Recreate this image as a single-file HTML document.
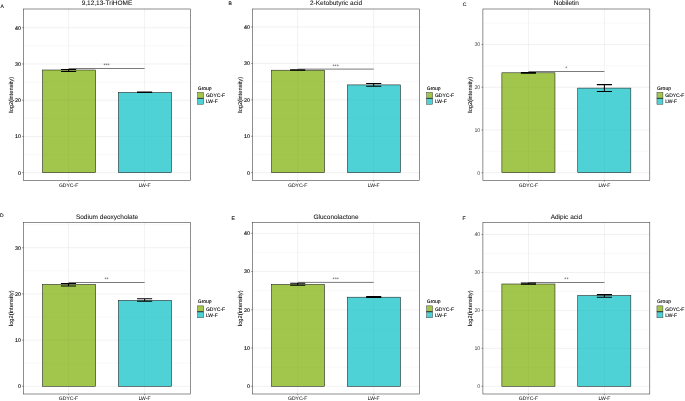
<!DOCTYPE html>
<html><head><meta charset="utf-8"><title>Figure</title>
<style>
html,body{margin:0;padding:0;background:#fff;}
body{width:685px;height:401px;overflow:hidden;font-family:"Liberation Sans",sans-serif;}
svg{display:block;will-change:transform;}
</style></head><body>
<svg width="685" height="401" viewBox="0 0 685 401" text-rendering="geometricPrecision">
<rect x="0" y="0" width="685" height="401" fill="#ffffff"/>
<g>
<line x1="23.50" x2="190.50" y1="154.57" y2="154.57" stroke="#ebebeb" stroke-width="0.32"/>
<line x1="23.50" x2="190.50" y1="118.32" y2="118.32" stroke="#ebebeb" stroke-width="0.32"/>
<line x1="23.50" x2="190.50" y1="82.07" y2="82.07" stroke="#ebebeb" stroke-width="0.32"/>
<line x1="23.50" x2="190.50" y1="45.82" y2="45.82" stroke="#ebebeb" stroke-width="0.32"/>
<line x1="23.50" x2="190.50" y1="172.70" y2="172.70" stroke="#e8e8e8" stroke-width="0.6"/>
<line x1="23.50" x2="190.50" y1="136.45" y2="136.45" stroke="#e8e8e8" stroke-width="0.6"/>
<line x1="23.50" x2="190.50" y1="100.20" y2="100.20" stroke="#e8e8e8" stroke-width="0.6"/>
<line x1="23.50" x2="190.50" y1="63.95" y2="63.95" stroke="#e8e8e8" stroke-width="0.6"/>
<line x1="23.50" x2="190.50" y1="27.70" y2="27.70" stroke="#e8e8e8" stroke-width="0.6"/>
<line x1="68.60" x2="68.60" y1="9.00" y2="180.50" stroke="#e8e8e8" stroke-width="0.6"/>
<line x1="144.60" x2="144.60" y1="9.00" y2="180.50" stroke="#e8e8e8" stroke-width="0.6"/>
<rect x="42.48" y="70.00" width="53.14" height="102.70" fill="#A2C64C" stroke="#1a1a1a" stroke-width="0.55"/>
<rect x="118.39" y="92.40" width="53.14" height="80.30" fill="#4FD2D6" stroke="#1a1a1a" stroke-width="0.55"/>
<line x1="68.60" x2="68.60" y1="70.50" y2="172.20" stroke="#000" stroke-opacity="0.05" stroke-width="0.6"/>
<line x1="144.60" x2="144.60" y1="92.90" y2="172.20" stroke="#000" stroke-opacity="0.05" stroke-width="0.6"/>
<line x1="42.78" x2="95.31" y1="136.45" y2="136.45" stroke="#000" stroke-opacity="0.05" stroke-width="0.6"/>
<line x1="42.78" x2="95.31" y1="100.20" y2="100.20" stroke="#000" stroke-opacity="0.05" stroke-width="0.6"/>
<line x1="42.78" x2="95.31" y1="154.57" y2="154.57" stroke="#000" stroke-opacity="0.05" stroke-width="0.3"/>
<line x1="42.78" x2="95.31" y1="118.32" y2="118.32" stroke="#000" stroke-opacity="0.05" stroke-width="0.3"/>
<line x1="42.78" x2="95.31" y1="82.07" y2="82.07" stroke="#000" stroke-opacity="0.05" stroke-width="0.3"/>
<line x1="118.69" x2="171.22" y1="136.45" y2="136.45" stroke="#000" stroke-opacity="0.05" stroke-width="0.6"/>
<line x1="118.69" x2="171.22" y1="100.20" y2="100.20" stroke="#000" stroke-opacity="0.05" stroke-width="0.6"/>
<line x1="118.69" x2="171.22" y1="154.57" y2="154.57" stroke="#000" stroke-opacity="0.05" stroke-width="0.3"/>
<line x1="118.69" x2="171.22" y1="118.32" y2="118.32" stroke="#000" stroke-opacity="0.05" stroke-width="0.3"/>
<path d="M61.05 69.50H76.15M61.05 71.50H76.15M68.60 69.50V71.50" stroke="#000" stroke-width="1.05" fill="none"/>
<path d="M137.05 91.95H152.15M137.05 92.40H152.15M144.60 91.95V92.40" stroke="#000" stroke-width="1.05" fill="none"/>
<line x1="68.60" x2="144.60" y1="68.50" y2="68.50" stroke="#222" stroke-width="0.6"/>
<text x="106.60" y="67.05" font-family="Liberation Sans, sans-serif" font-size="5.3" text-anchor="middle" fill="#555" stroke="#555" stroke-width="0" >***</text>
<rect x="23.50" y="9.00" width="167.00" height="171.50" fill="none" stroke="#333333" stroke-width="0.55"/>
<line x1="22.10" x2="23.50" y1="172.70" y2="172.70" stroke="#333" stroke-width="0.5"/>
<text x="20.90" y="174.60" font-family="Liberation Sans, sans-serif" font-size="5.3" text-anchor="end" fill="#111" stroke="#111" stroke-width="0.14" >0</text>
<line x1="22.10" x2="23.50" y1="136.45" y2="136.45" stroke="#333" stroke-width="0.5"/>
<text x="20.90" y="138.35" font-family="Liberation Sans, sans-serif" font-size="5.3" text-anchor="end" fill="#111" stroke="#111" stroke-width="0.14" >10</text>
<line x1="22.10" x2="23.50" y1="100.20" y2="100.20" stroke="#333" stroke-width="0.5"/>
<text x="20.90" y="102.10" font-family="Liberation Sans, sans-serif" font-size="5.3" text-anchor="end" fill="#111" stroke="#111" stroke-width="0.14" >20</text>
<line x1="22.10" x2="23.50" y1="63.95" y2="63.95" stroke="#333" stroke-width="0.5"/>
<text x="20.90" y="65.85" font-family="Liberation Sans, sans-serif" font-size="5.3" text-anchor="end" fill="#111" stroke="#111" stroke-width="0.14" >30</text>
<line x1="22.10" x2="23.50" y1="27.70" y2="27.70" stroke="#333" stroke-width="0.5"/>
<text x="20.90" y="29.60" font-family="Liberation Sans, sans-serif" font-size="5.3" text-anchor="end" fill="#111" stroke="#111" stroke-width="0.14" >40</text>
<line x1="68.60" x2="68.60" y1="180.50" y2="181.70" stroke="#333" stroke-width="0.5"/>
<text x="68.60" y="187.20" font-family="Liberation Sans, sans-serif" font-size="5.05" text-anchor="middle" fill="#222" stroke="#222" stroke-width="0.06" >GDYC-F</text>
<line x1="144.60" x2="144.60" y1="180.50" y2="181.70" stroke="#333" stroke-width="0.5"/>
<text x="144.60" y="187.20" font-family="Liberation Sans, sans-serif" font-size="5.05" text-anchor="middle" fill="#222" stroke="#222" stroke-width="0.06" >LW-F</text>
<text x="107.00" y="5.30" font-family="Liberation Sans, sans-serif" font-size="6.5" text-anchor="middle" fill="#111" stroke="#111" stroke-width="0.06" >9,12,13-TriHOME</text>
<text transform="translate(12.50 94.75) rotate(-90)" font-family="Liberation Sans, sans-serif" font-size="5.75" text-anchor="middle" fill="#000" stroke="#000" stroke-width="0.06">log2(intensity)</text>
<text x="197.75" y="89.95" font-family="Liberation Sans, sans-serif" font-size="5.0" text-anchor="start" fill="#000" stroke="#000" stroke-width="0.1" >Group</text>
<rect x="197.65" y="92.35" width="5.95" height="5.95" fill="#A2C64C" stroke="#444" stroke-width="0.5"/>
<text x="205.95" y="97.42" font-family="Liberation Sans, sans-serif" font-size="5.0" text-anchor="start" fill="#000" stroke="#000" stroke-width="0.1" >GDYC-F</text>
<rect x="197.65" y="98.30" width="5.95" height="5.95" fill="#4FD2D6" stroke="#444" stroke-width="0.5"/>
<text x="205.95" y="103.37" font-family="Liberation Sans, sans-serif" font-size="5.0" text-anchor="start" fill="#000" stroke="#000" stroke-width="0.1" >LW-F</text>
<line x1="197.65" x2="203.60" y1="98.30" y2="98.30" stroke="#111" stroke-width="0.6"/>
<text x="0.40" y="7.90" font-family="Liberation Sans, sans-serif" font-size="5.0" text-anchor="start" fill="#222" stroke="#222" stroke-width="0.15" >A</text>
</g>
<g>
<line x1="252.50" x2="419.50" y1="154.49" y2="154.49" stroke="#ebebeb" stroke-width="0.32"/>
<line x1="252.50" x2="419.50" y1="118.06" y2="118.06" stroke="#ebebeb" stroke-width="0.32"/>
<line x1="252.50" x2="419.50" y1="81.64" y2="81.64" stroke="#ebebeb" stroke-width="0.32"/>
<line x1="252.50" x2="419.50" y1="45.21" y2="45.21" stroke="#ebebeb" stroke-width="0.32"/>
<line x1="252.50" x2="419.50" y1="172.70" y2="172.70" stroke="#e8e8e8" stroke-width="0.6"/>
<line x1="252.50" x2="419.50" y1="136.27" y2="136.27" stroke="#e8e8e8" stroke-width="0.6"/>
<line x1="252.50" x2="419.50" y1="99.85" y2="99.85" stroke="#e8e8e8" stroke-width="0.6"/>
<line x1="252.50" x2="419.50" y1="63.42" y2="63.42" stroke="#e8e8e8" stroke-width="0.6"/>
<line x1="252.50" x2="419.50" y1="27.00" y2="27.00" stroke="#e8e8e8" stroke-width="0.6"/>
<line x1="297.65" x2="297.65" y1="9.00" y2="180.50" stroke="#e8e8e8" stroke-width="0.6"/>
<line x1="373.70" x2="373.70" y1="9.00" y2="180.50" stroke="#e8e8e8" stroke-width="0.6"/>
<rect x="271.48" y="70.20" width="53.14" height="102.50" fill="#A2C64C" stroke="#1a1a1a" stroke-width="0.55"/>
<rect x="347.39" y="84.90" width="53.14" height="87.80" fill="#4FD2D6" stroke="#1a1a1a" stroke-width="0.55"/>
<line x1="297.65" x2="297.65" y1="70.70" y2="172.20" stroke="#000" stroke-opacity="0.05" stroke-width="0.6"/>
<line x1="373.70" x2="373.70" y1="85.40" y2="172.20" stroke="#000" stroke-opacity="0.05" stroke-width="0.6"/>
<line x1="271.78" x2="324.31" y1="136.27" y2="136.27" stroke="#000" stroke-opacity="0.05" stroke-width="0.6"/>
<line x1="271.78" x2="324.31" y1="99.85" y2="99.85" stroke="#000" stroke-opacity="0.05" stroke-width="0.6"/>
<line x1="271.78" x2="324.31" y1="154.49" y2="154.49" stroke="#000" stroke-opacity="0.05" stroke-width="0.3"/>
<line x1="271.78" x2="324.31" y1="118.06" y2="118.06" stroke="#000" stroke-opacity="0.05" stroke-width="0.3"/>
<line x1="271.78" x2="324.31" y1="81.64" y2="81.64" stroke="#000" stroke-opacity="0.05" stroke-width="0.3"/>
<line x1="347.69" x2="400.22" y1="136.27" y2="136.27" stroke="#000" stroke-opacity="0.05" stroke-width="0.6"/>
<line x1="347.69" x2="400.22" y1="99.85" y2="99.85" stroke="#000" stroke-opacity="0.05" stroke-width="0.6"/>
<line x1="347.69" x2="400.22" y1="154.49" y2="154.49" stroke="#000" stroke-opacity="0.05" stroke-width="0.3"/>
<line x1="347.69" x2="400.22" y1="118.06" y2="118.06" stroke="#000" stroke-opacity="0.05" stroke-width="0.3"/>
<path d="M290.10 69.80H305.20M290.10 70.10H305.20M297.65 69.80V70.10" stroke="#000" stroke-width="1.05" fill="none"/>
<path d="M366.15 83.50H381.25M366.15 86.20H381.25M373.70 83.50V86.20" stroke="#000" stroke-width="1.05" fill="none"/>
<line x1="297.65" x2="373.70" y1="69.10" y2="69.10" stroke="#222" stroke-width="0.6"/>
<text x="335.67" y="67.55" font-family="Liberation Sans, sans-serif" font-size="5.3" text-anchor="middle" fill="#555" stroke="#555" stroke-width="0" >***</text>
<rect x="252.50" y="9.00" width="167.00" height="171.50" fill="none" stroke="#333333" stroke-width="0.55"/>
<line x1="251.10" x2="252.50" y1="172.70" y2="172.70" stroke="#333" stroke-width="0.5"/>
<text x="249.90" y="174.60" font-family="Liberation Sans, sans-serif" font-size="5.3" text-anchor="end" fill="#111" stroke="#111" stroke-width="0.14" >0</text>
<line x1="251.10" x2="252.50" y1="136.27" y2="136.27" stroke="#333" stroke-width="0.5"/>
<text x="249.90" y="138.17" font-family="Liberation Sans, sans-serif" font-size="5.3" text-anchor="end" fill="#111" stroke="#111" stroke-width="0.14" >10</text>
<line x1="251.10" x2="252.50" y1="99.85" y2="99.85" stroke="#333" stroke-width="0.5"/>
<text x="249.90" y="101.75" font-family="Liberation Sans, sans-serif" font-size="5.3" text-anchor="end" fill="#111" stroke="#111" stroke-width="0.14" >20</text>
<line x1="251.10" x2="252.50" y1="63.42" y2="63.42" stroke="#333" stroke-width="0.5"/>
<text x="249.90" y="65.32" font-family="Liberation Sans, sans-serif" font-size="5.3" text-anchor="end" fill="#111" stroke="#111" stroke-width="0.14" >30</text>
<line x1="251.10" x2="252.50" y1="27.00" y2="27.00" stroke="#333" stroke-width="0.5"/>
<text x="249.90" y="28.90" font-family="Liberation Sans, sans-serif" font-size="5.3" text-anchor="end" fill="#111" stroke="#111" stroke-width="0.14" >40</text>
<line x1="297.65" x2="297.65" y1="180.50" y2="181.70" stroke="#333" stroke-width="0.5"/>
<text x="297.65" y="187.20" font-family="Liberation Sans, sans-serif" font-size="5.05" text-anchor="middle" fill="#222" stroke="#222" stroke-width="0.06" >GDYC-F</text>
<line x1="373.70" x2="373.70" y1="180.50" y2="181.70" stroke="#333" stroke-width="0.5"/>
<text x="373.70" y="187.20" font-family="Liberation Sans, sans-serif" font-size="5.05" text-anchor="middle" fill="#222" stroke="#222" stroke-width="0.06" >LW-F</text>
<text x="336.00" y="5.30" font-family="Liberation Sans, sans-serif" font-size="6.5" text-anchor="middle" fill="#111" stroke="#111" stroke-width="0.06" >2-Ketobutyric acid</text>
<text transform="translate(241.50 94.75) rotate(-90)" font-family="Liberation Sans, sans-serif" font-size="5.75" text-anchor="middle" fill="#000" stroke="#000" stroke-width="0.06">log2(intensity)</text>
<text x="426.75" y="89.95" font-family="Liberation Sans, sans-serif" font-size="5.0" text-anchor="start" fill="#000" stroke="#000" stroke-width="0.1" >Group</text>
<rect x="426.65" y="92.35" width="5.95" height="5.95" fill="#A2C64C" stroke="#444" stroke-width="0.5"/>
<text x="434.95" y="97.42" font-family="Liberation Sans, sans-serif" font-size="5.0" text-anchor="start" fill="#000" stroke="#000" stroke-width="0.1" >GDYC-F</text>
<rect x="426.65" y="98.30" width="5.95" height="5.95" fill="#4FD2D6" stroke="#444" stroke-width="0.5"/>
<text x="434.95" y="103.37" font-family="Liberation Sans, sans-serif" font-size="5.0" text-anchor="start" fill="#000" stroke="#000" stroke-width="0.1" >LW-F</text>
<line x1="426.65" x2="432.60" y1="98.30" y2="98.30" stroke="#111" stroke-width="0.6"/>
<text x="228.50" y="4.90" font-family="Liberation Sans, sans-serif" font-size="5.0" text-anchor="start" fill="#222" stroke="#222" stroke-width="0.15" >B</text>
</g>
<g>
<line x1="482.90" x2="649.80" y1="151.33" y2="151.33" stroke="#ebebeb" stroke-width="0.32"/>
<line x1="482.90" x2="649.80" y1="108.60" y2="108.60" stroke="#ebebeb" stroke-width="0.32"/>
<line x1="482.90" x2="649.80" y1="65.88" y2="65.88" stroke="#ebebeb" stroke-width="0.32"/>
<line x1="482.90" x2="649.80" y1="23.15" y2="23.15" stroke="#ebebeb" stroke-width="0.32"/>
<line x1="482.90" x2="649.80" y1="172.70" y2="172.70" stroke="#e8e8e8" stroke-width="0.6"/>
<line x1="482.90" x2="649.80" y1="129.97" y2="129.97" stroke="#e8e8e8" stroke-width="0.6"/>
<line x1="482.90" x2="649.80" y1="87.24" y2="87.24" stroke="#e8e8e8" stroke-width="0.6"/>
<line x1="482.90" x2="649.80" y1="44.51" y2="44.51" stroke="#e8e8e8" stroke-width="0.6"/>
<line x1="528.40" x2="528.40" y1="9.00" y2="180.50" stroke="#e8e8e8" stroke-width="0.6"/>
<line x1="604.40" x2="604.40" y1="9.00" y2="180.50" stroke="#e8e8e8" stroke-width="0.6"/>
<rect x="501.87" y="72.80" width="53.10" height="99.90" fill="#A2C64C" stroke="#1a1a1a" stroke-width="0.55"/>
<rect x="577.73" y="88.10" width="53.10" height="84.60" fill="#4FD2D6" stroke="#1a1a1a" stroke-width="0.55"/>
<line x1="528.40" x2="528.40" y1="73.30" y2="172.20" stroke="#000" stroke-opacity="0.05" stroke-width="0.6"/>
<line x1="604.40" x2="604.40" y1="88.60" y2="172.20" stroke="#000" stroke-opacity="0.05" stroke-width="0.6"/>
<line x1="502.17" x2="554.67" y1="129.97" y2="129.97" stroke="#000" stroke-opacity="0.05" stroke-width="0.6"/>
<line x1="502.17" x2="554.67" y1="87.24" y2="87.24" stroke="#000" stroke-opacity="0.05" stroke-width="0.6"/>
<line x1="502.17" x2="554.67" y1="151.33" y2="151.33" stroke="#000" stroke-opacity="0.05" stroke-width="0.3"/>
<line x1="502.17" x2="554.67" y1="108.60" y2="108.60" stroke="#000" stroke-opacity="0.05" stroke-width="0.3"/>
<line x1="578.03" x2="630.53" y1="129.97" y2="129.97" stroke="#000" stroke-opacity="0.05" stroke-width="0.6"/>
<line x1="578.03" x2="630.53" y1="151.33" y2="151.33" stroke="#000" stroke-opacity="0.05" stroke-width="0.3"/>
<line x1="578.03" x2="630.53" y1="108.60" y2="108.60" stroke="#000" stroke-opacity="0.05" stroke-width="0.3"/>
<path d="M520.85 72.45H535.95M520.85 73.25H535.95M528.40 72.45V73.25" stroke="#000" stroke-width="1.05" fill="none"/>
<path d="M596.85 84.60H611.95M596.85 91.50H611.95M604.40 84.60V91.50" stroke="#000" stroke-width="1.05" fill="none"/>
<line x1="528.40" x2="604.40" y1="71.50" y2="71.50" stroke="#222" stroke-width="0.6"/>
<text x="566.40" y="69.95" font-family="Liberation Sans, sans-serif" font-size="5.3" text-anchor="middle" fill="#555" stroke="#555" stroke-width="0" >*</text>
<rect x="482.90" y="9.00" width="166.90" height="171.50" fill="none" stroke="#333333" stroke-width="0.55"/>
<line x1="481.50" x2="482.90" y1="172.70" y2="172.70" stroke="#333" stroke-width="0.5"/>
<text x="480.30" y="174.60" font-family="Liberation Sans, sans-serif" font-size="5.3" text-anchor="end" fill="#444" stroke="#444" stroke-width="0" >0</text>
<line x1="481.50" x2="482.90" y1="129.97" y2="129.97" stroke="#333" stroke-width="0.5"/>
<text x="480.30" y="131.87" font-family="Liberation Sans, sans-serif" font-size="5.3" text-anchor="end" fill="#444" stroke="#444" stroke-width="0" >10</text>
<line x1="481.50" x2="482.90" y1="87.24" y2="87.24" stroke="#333" stroke-width="0.5"/>
<text x="480.30" y="89.14" font-family="Liberation Sans, sans-serif" font-size="5.3" text-anchor="end" fill="#444" stroke="#444" stroke-width="0" >20</text>
<line x1="481.50" x2="482.90" y1="44.51" y2="44.51" stroke="#333" stroke-width="0.5"/>
<text x="480.30" y="46.41" font-family="Liberation Sans, sans-serif" font-size="5.3" text-anchor="end" fill="#444" stroke="#444" stroke-width="0" >30</text>
<line x1="528.40" x2="528.40" y1="180.50" y2="181.70" stroke="#333" stroke-width="0.5"/>
<text x="528.40" y="187.20" font-family="Liberation Sans, sans-serif" font-size="5.05" text-anchor="middle" fill="#222" stroke="#222" stroke-width="0.06" >GDYC-F</text>
<line x1="604.40" x2="604.40" y1="180.50" y2="181.70" stroke="#333" stroke-width="0.5"/>
<text x="604.40" y="187.20" font-family="Liberation Sans, sans-serif" font-size="5.05" text-anchor="middle" fill="#222" stroke="#222" stroke-width="0.06" >LW-F</text>
<text x="566.35" y="5.30" font-family="Liberation Sans, sans-serif" font-size="6.5" text-anchor="middle" fill="#111" stroke="#111" stroke-width="0.06" >Nobiletin</text>
<text transform="translate(471.90 94.75) rotate(-90)" font-family="Liberation Sans, sans-serif" font-size="5.75" text-anchor="middle" fill="#000" stroke="#000" stroke-width="0.06">log2(intensity)</text>
<text x="657.05" y="89.95" font-family="Liberation Sans, sans-serif" font-size="5.0" text-anchor="start" fill="#000" stroke="#000" stroke-width="0.1" >Group</text>
<rect x="656.95" y="92.35" width="5.95" height="5.95" fill="#A2C64C" stroke="#444" stroke-width="0.5"/>
<text x="665.25" y="97.42" font-family="Liberation Sans, sans-serif" font-size="5.0" text-anchor="start" fill="#000" stroke="#000" stroke-width="0.1" >GDYC-F</text>
<rect x="656.95" y="98.30" width="5.95" height="5.95" fill="#4FD2D6" stroke="#444" stroke-width="0.5"/>
<text x="665.25" y="103.37" font-family="Liberation Sans, sans-serif" font-size="5.0" text-anchor="start" fill="#000" stroke="#000" stroke-width="0.1" >LW-F</text>
<line x1="656.95" x2="662.90" y1="98.30" y2="98.30" stroke="#111" stroke-width="0.6"/>
<text x="462.70" y="5.80" font-family="Liberation Sans, sans-serif" font-size="5.0" text-anchor="start" fill="#222" stroke="#222" stroke-width="0.15" >C</text>
</g>
<g>
<line x1="23.50" x2="190.50" y1="363.20" y2="363.20" stroke="#ebebeb" stroke-width="0.32"/>
<line x1="23.50" x2="190.50" y1="317.00" y2="317.00" stroke="#ebebeb" stroke-width="0.32"/>
<line x1="23.50" x2="190.50" y1="270.80" y2="270.80" stroke="#ebebeb" stroke-width="0.32"/>
<line x1="23.50" x2="190.50" y1="224.60" y2="224.60" stroke="#ebebeb" stroke-width="0.32"/>
<line x1="23.50" x2="190.50" y1="386.30" y2="386.30" stroke="#e8e8e8" stroke-width="0.6"/>
<line x1="23.50" x2="190.50" y1="340.10" y2="340.10" stroke="#e8e8e8" stroke-width="0.6"/>
<line x1="23.50" x2="190.50" y1="293.90" y2="293.90" stroke="#e8e8e8" stroke-width="0.6"/>
<line x1="23.50" x2="190.50" y1="247.70" y2="247.70" stroke="#e8e8e8" stroke-width="0.6"/>
<line x1="68.50" x2="68.50" y1="222.50" y2="394.00" stroke="#e8e8e8" stroke-width="0.6"/>
<line x1="144.60" x2="144.60" y1="222.50" y2="394.00" stroke="#e8e8e8" stroke-width="0.6"/>
<rect x="42.48" y="284.40" width="53.14" height="101.90" fill="#A2C64C" stroke="#1a1a1a" stroke-width="0.55"/>
<rect x="118.39" y="300.40" width="53.14" height="85.90" fill="#4FD2D6" stroke="#1a1a1a" stroke-width="0.55"/>
<line x1="68.50" x2="68.50" y1="284.90" y2="385.80" stroke="#000" stroke-opacity="0.05" stroke-width="0.6"/>
<line x1="144.60" x2="144.60" y1="300.90" y2="385.80" stroke="#000" stroke-opacity="0.05" stroke-width="0.6"/>
<line x1="42.78" x2="95.31" y1="340.10" y2="340.10" stroke="#000" stroke-opacity="0.05" stroke-width="0.6"/>
<line x1="42.78" x2="95.31" y1="293.90" y2="293.90" stroke="#000" stroke-opacity="0.05" stroke-width="0.6"/>
<line x1="42.78" x2="95.31" y1="363.20" y2="363.20" stroke="#000" stroke-opacity="0.05" stroke-width="0.3"/>
<line x1="42.78" x2="95.31" y1="317.00" y2="317.00" stroke="#000" stroke-opacity="0.05" stroke-width="0.3"/>
<line x1="118.69" x2="171.22" y1="340.10" y2="340.10" stroke="#000" stroke-opacity="0.05" stroke-width="0.6"/>
<line x1="118.69" x2="171.22" y1="363.20" y2="363.20" stroke="#000" stroke-opacity="0.05" stroke-width="0.3"/>
<line x1="118.69" x2="171.22" y1="317.00" y2="317.00" stroke="#000" stroke-opacity="0.05" stroke-width="0.3"/>
<path d="M60.95 283.40H76.05M60.95 286.00H76.05M68.50 283.40V286.00" stroke="#000" stroke-width="1.05" fill="none"/>
<path d="M137.05 298.80H152.15M137.05 301.30H152.15M144.60 298.80V301.30" stroke="#000" stroke-width="1.05" fill="none"/>
<line x1="68.50" x2="144.60" y1="282.50" y2="282.50" stroke="#222" stroke-width="0.6"/>
<text x="106.55" y="281.15" font-family="Liberation Sans, sans-serif" font-size="5.3" text-anchor="middle" fill="#555" stroke="#555" stroke-width="0" >**</text>
<rect x="23.50" y="222.50" width="167.00" height="171.50" fill="none" stroke="#333333" stroke-width="0.55"/>
<line x1="22.10" x2="23.50" y1="386.30" y2="386.30" stroke="#333" stroke-width="0.5"/>
<text x="20.90" y="388.20" font-family="Liberation Sans, sans-serif" font-size="5.3" text-anchor="end" fill="#111" stroke="#111" stroke-width="0.14" >0</text>
<line x1="22.10" x2="23.50" y1="340.10" y2="340.10" stroke="#333" stroke-width="0.5"/>
<text x="20.90" y="342.00" font-family="Liberation Sans, sans-serif" font-size="5.3" text-anchor="end" fill="#111" stroke="#111" stroke-width="0.14" >10</text>
<line x1="22.10" x2="23.50" y1="293.90" y2="293.90" stroke="#333" stroke-width="0.5"/>
<text x="20.90" y="295.80" font-family="Liberation Sans, sans-serif" font-size="5.3" text-anchor="end" fill="#111" stroke="#111" stroke-width="0.14" >20</text>
<line x1="22.10" x2="23.50" y1="247.70" y2="247.70" stroke="#333" stroke-width="0.5"/>
<text x="20.90" y="249.60" font-family="Liberation Sans, sans-serif" font-size="5.3" text-anchor="end" fill="#111" stroke="#111" stroke-width="0.14" >30</text>
<line x1="68.50" x2="68.50" y1="394.00" y2="395.20" stroke="#333" stroke-width="0.5"/>
<text x="68.50" y="400.20" font-family="Liberation Sans, sans-serif" font-size="5.05" text-anchor="middle" fill="#222" stroke="#222" stroke-width="0.06" >GDYC-F</text>
<line x1="144.60" x2="144.60" y1="394.00" y2="395.20" stroke="#333" stroke-width="0.5"/>
<text x="144.60" y="400.20" font-family="Liberation Sans, sans-serif" font-size="5.05" text-anchor="middle" fill="#222" stroke="#222" stroke-width="0.06" >LW-F</text>
<text x="107.00" y="218.80" font-family="Liberation Sans, sans-serif" font-size="6.5" text-anchor="middle" fill="#111" stroke="#111" stroke-width="0.06" >Sodium deoxycholate</text>
<text transform="translate(12.50 308.25) rotate(-90)" font-family="Liberation Sans, sans-serif" font-size="5.75" text-anchor="middle" fill="#000" stroke="#000" stroke-width="0.06">log2(intensity)</text>
<text x="197.75" y="303.45" font-family="Liberation Sans, sans-serif" font-size="5.0" text-anchor="start" fill="#000" stroke="#000" stroke-width="0.1" >Group</text>
<rect x="197.65" y="305.85" width="5.95" height="5.95" fill="#A2C64C" stroke="#444" stroke-width="0.5"/>
<text x="205.95" y="310.93" font-family="Liberation Sans, sans-serif" font-size="5.0" text-anchor="start" fill="#000" stroke="#000" stroke-width="0.1" >GDYC-F</text>
<rect x="197.65" y="311.80" width="5.95" height="5.95" fill="#4FD2D6" stroke="#444" stroke-width="0.5"/>
<text x="205.95" y="316.88" font-family="Liberation Sans, sans-serif" font-size="5.0" text-anchor="start" fill="#000" stroke="#000" stroke-width="0.1" >LW-F</text>
<line x1="197.65" x2="203.60" y1="311.80" y2="311.80" stroke="#111" stroke-width="0.6"/>
<text x="0.00" y="216.60" font-family="Liberation Sans, sans-serif" font-size="5.0" text-anchor="start" fill="#222" stroke="#222" stroke-width="0.15" >D</text>
</g>
<g>
<line x1="252.50" x2="419.50" y1="367.18" y2="367.18" stroke="#ebebeb" stroke-width="0.32"/>
<line x1="252.50" x2="419.50" y1="328.93" y2="328.93" stroke="#ebebeb" stroke-width="0.32"/>
<line x1="252.50" x2="419.50" y1="290.68" y2="290.68" stroke="#ebebeb" stroke-width="0.32"/>
<line x1="252.50" x2="419.50" y1="252.43" y2="252.43" stroke="#ebebeb" stroke-width="0.32"/>
<line x1="252.50" x2="419.50" y1="386.30" y2="386.30" stroke="#e8e8e8" stroke-width="0.6"/>
<line x1="252.50" x2="419.50" y1="348.05" y2="348.05" stroke="#e8e8e8" stroke-width="0.6"/>
<line x1="252.50" x2="419.50" y1="309.80" y2="309.80" stroke="#e8e8e8" stroke-width="0.6"/>
<line x1="252.50" x2="419.50" y1="271.55" y2="271.55" stroke="#e8e8e8" stroke-width="0.6"/>
<line x1="252.50" x2="419.50" y1="233.30" y2="233.30" stroke="#e8e8e8" stroke-width="0.6"/>
<line x1="297.70" x2="297.70" y1="222.50" y2="394.00" stroke="#e8e8e8" stroke-width="0.6"/>
<line x1="373.70" x2="373.70" y1="222.50" y2="394.00" stroke="#e8e8e8" stroke-width="0.6"/>
<rect x="271.48" y="284.40" width="53.14" height="101.90" fill="#A2C64C" stroke="#1a1a1a" stroke-width="0.55"/>
<rect x="347.39" y="297.20" width="53.14" height="89.10" fill="#4FD2D6" stroke="#1a1a1a" stroke-width="0.55"/>
<line x1="297.70" x2="297.70" y1="284.90" y2="385.80" stroke="#000" stroke-opacity="0.05" stroke-width="0.6"/>
<line x1="373.70" x2="373.70" y1="297.70" y2="385.80" stroke="#000" stroke-opacity="0.05" stroke-width="0.6"/>
<line x1="271.78" x2="324.31" y1="348.05" y2="348.05" stroke="#000" stroke-opacity="0.05" stroke-width="0.6"/>
<line x1="271.78" x2="324.31" y1="309.80" y2="309.80" stroke="#000" stroke-opacity="0.05" stroke-width="0.6"/>
<line x1="271.78" x2="324.31" y1="367.18" y2="367.18" stroke="#000" stroke-opacity="0.05" stroke-width="0.3"/>
<line x1="271.78" x2="324.31" y1="328.93" y2="328.93" stroke="#000" stroke-opacity="0.05" stroke-width="0.3"/>
<line x1="271.78" x2="324.31" y1="290.68" y2="290.68" stroke="#000" stroke-opacity="0.05" stroke-width="0.3"/>
<line x1="347.69" x2="400.22" y1="348.05" y2="348.05" stroke="#000" stroke-opacity="0.05" stroke-width="0.6"/>
<line x1="347.69" x2="400.22" y1="309.80" y2="309.80" stroke="#000" stroke-opacity="0.05" stroke-width="0.6"/>
<line x1="347.69" x2="400.22" y1="367.18" y2="367.18" stroke="#000" stroke-opacity="0.05" stroke-width="0.3"/>
<line x1="347.69" x2="400.22" y1="328.93" y2="328.93" stroke="#000" stroke-opacity="0.05" stroke-width="0.3"/>
<path d="M290.15 283.30H305.25M290.15 285.30H305.25M297.70 283.30V285.30" stroke="#000" stroke-width="1.05" fill="none"/>
<path d="M366.15 296.60H381.25M366.15 297.40H381.25M373.70 296.60V297.40" stroke="#000" stroke-width="1.05" fill="none"/>
<line x1="297.70" x2="373.70" y1="282.40" y2="282.40" stroke="#222" stroke-width="0.6"/>
<text x="335.70" y="281.15" font-family="Liberation Sans, sans-serif" font-size="5.3" text-anchor="middle" fill="#555" stroke="#555" stroke-width="0" >***</text>
<rect x="252.50" y="222.50" width="167.00" height="171.50" fill="none" stroke="#333333" stroke-width="0.55"/>
<line x1="251.10" x2="252.50" y1="386.30" y2="386.30" stroke="#333" stroke-width="0.5"/>
<text x="249.90" y="388.20" font-family="Liberation Sans, sans-serif" font-size="5.3" text-anchor="end" fill="#111" stroke="#111" stroke-width="0.14" >0</text>
<line x1="251.10" x2="252.50" y1="348.05" y2="348.05" stroke="#333" stroke-width="0.5"/>
<text x="249.90" y="349.95" font-family="Liberation Sans, sans-serif" font-size="5.3" text-anchor="end" fill="#111" stroke="#111" stroke-width="0.14" >10</text>
<line x1="251.10" x2="252.50" y1="309.80" y2="309.80" stroke="#333" stroke-width="0.5"/>
<text x="249.90" y="311.70" font-family="Liberation Sans, sans-serif" font-size="5.3" text-anchor="end" fill="#111" stroke="#111" stroke-width="0.14" >20</text>
<line x1="251.10" x2="252.50" y1="271.55" y2="271.55" stroke="#333" stroke-width="0.5"/>
<text x="249.90" y="273.45" font-family="Liberation Sans, sans-serif" font-size="5.3" text-anchor="end" fill="#111" stroke="#111" stroke-width="0.14" >30</text>
<line x1="251.10" x2="252.50" y1="233.30" y2="233.30" stroke="#333" stroke-width="0.5"/>
<text x="249.90" y="235.20" font-family="Liberation Sans, sans-serif" font-size="5.3" text-anchor="end" fill="#111" stroke="#111" stroke-width="0.14" >40</text>
<line x1="297.70" x2="297.70" y1="394.00" y2="395.20" stroke="#333" stroke-width="0.5"/>
<text x="297.70" y="400.20" font-family="Liberation Sans, sans-serif" font-size="5.05" text-anchor="middle" fill="#222" stroke="#222" stroke-width="0.06" >GDYC-F</text>
<line x1="373.70" x2="373.70" y1="394.00" y2="395.20" stroke="#333" stroke-width="0.5"/>
<text x="373.70" y="400.20" font-family="Liberation Sans, sans-serif" font-size="5.05" text-anchor="middle" fill="#222" stroke="#222" stroke-width="0.06" >LW-F</text>
<text x="336.00" y="218.80" font-family="Liberation Sans, sans-serif" font-size="6.5" text-anchor="middle" fill="#111" stroke="#111" stroke-width="0.06" >Gluconolactone</text>
<text transform="translate(241.50 308.25) rotate(-90)" font-family="Liberation Sans, sans-serif" font-size="5.75" text-anchor="middle" fill="#000" stroke="#000" stroke-width="0.06">log2(intensity)</text>
<text x="426.75" y="303.45" font-family="Liberation Sans, sans-serif" font-size="5.0" text-anchor="start" fill="#000" stroke="#000" stroke-width="0.1" >Group</text>
<rect x="426.65" y="305.85" width="5.95" height="5.95" fill="#A2C64C" stroke="#444" stroke-width="0.5"/>
<text x="434.95" y="310.93" font-family="Liberation Sans, sans-serif" font-size="5.0" text-anchor="start" fill="#000" stroke="#000" stroke-width="0.1" >GDYC-F</text>
<rect x="426.65" y="311.80" width="5.95" height="5.95" fill="#4FD2D6" stroke="#444" stroke-width="0.5"/>
<text x="434.95" y="316.88" font-family="Liberation Sans, sans-serif" font-size="5.0" text-anchor="start" fill="#000" stroke="#000" stroke-width="0.1" >LW-F</text>
<line x1="426.65" x2="432.60" y1="311.80" y2="311.80" stroke="#111" stroke-width="0.6"/>
<text x="231.50" y="219.90" font-family="Liberation Sans, sans-serif" font-size="5.0" text-anchor="start" fill="#222" stroke="#222" stroke-width="0.15" >E</text>
</g>
<g>
<line x1="482.90" x2="649.80" y1="367.32" y2="367.32" stroke="#ebebeb" stroke-width="0.32"/>
<line x1="482.90" x2="649.80" y1="329.38" y2="329.38" stroke="#ebebeb" stroke-width="0.32"/>
<line x1="482.90" x2="649.80" y1="291.43" y2="291.43" stroke="#ebebeb" stroke-width="0.32"/>
<line x1="482.90" x2="649.80" y1="253.48" y2="253.48" stroke="#ebebeb" stroke-width="0.32"/>
<line x1="482.90" x2="649.80" y1="386.30" y2="386.30" stroke="#e8e8e8" stroke-width="0.6"/>
<line x1="482.90" x2="649.80" y1="348.35" y2="348.35" stroke="#e8e8e8" stroke-width="0.6"/>
<line x1="482.90" x2="649.80" y1="310.40" y2="310.40" stroke="#e8e8e8" stroke-width="0.6"/>
<line x1="482.90" x2="649.80" y1="272.45" y2="272.45" stroke="#e8e8e8" stroke-width="0.6"/>
<line x1="482.90" x2="649.80" y1="234.50" y2="234.50" stroke="#e8e8e8" stroke-width="0.6"/>
<line x1="528.45" x2="528.45" y1="222.50" y2="394.00" stroke="#e8e8e8" stroke-width="0.6"/>
<line x1="604.40" x2="604.40" y1="222.50" y2="394.00" stroke="#e8e8e8" stroke-width="0.6"/>
<rect x="501.87" y="284.00" width="53.10" height="102.30" fill="#A2C64C" stroke="#1a1a1a" stroke-width="0.55"/>
<rect x="577.73" y="295.50" width="53.10" height="90.80" fill="#4FD2D6" stroke="#1a1a1a" stroke-width="0.55"/>
<line x1="528.45" x2="528.45" y1="284.50" y2="385.80" stroke="#000" stroke-opacity="0.05" stroke-width="0.6"/>
<line x1="604.40" x2="604.40" y1="296.00" y2="385.80" stroke="#000" stroke-opacity="0.05" stroke-width="0.6"/>
<line x1="502.17" x2="554.67" y1="348.35" y2="348.35" stroke="#000" stroke-opacity="0.05" stroke-width="0.6"/>
<line x1="502.17" x2="554.67" y1="310.40" y2="310.40" stroke="#000" stroke-opacity="0.05" stroke-width="0.6"/>
<line x1="502.17" x2="554.67" y1="367.32" y2="367.32" stroke="#000" stroke-opacity="0.05" stroke-width="0.3"/>
<line x1="502.17" x2="554.67" y1="329.38" y2="329.38" stroke="#000" stroke-opacity="0.05" stroke-width="0.3"/>
<line x1="502.17" x2="554.67" y1="291.43" y2="291.43" stroke="#000" stroke-opacity="0.05" stroke-width="0.3"/>
<line x1="578.03" x2="630.53" y1="348.35" y2="348.35" stroke="#000" stroke-opacity="0.05" stroke-width="0.6"/>
<line x1="578.03" x2="630.53" y1="310.40" y2="310.40" stroke="#000" stroke-opacity="0.05" stroke-width="0.6"/>
<line x1="578.03" x2="630.53" y1="367.32" y2="367.32" stroke="#000" stroke-opacity="0.05" stroke-width="0.3"/>
<line x1="578.03" x2="630.53" y1="329.38" y2="329.38" stroke="#000" stroke-opacity="0.05" stroke-width="0.3"/>
<path d="M520.90 283.00H536.00M520.90 284.30H536.00M528.45 283.00V284.30" stroke="#000" stroke-width="1.05" fill="none"/>
<path d="M596.85 294.60H611.95M596.85 297.30H611.95M604.40 294.60V297.30" stroke="#000" stroke-width="1.05" fill="none"/>
<line x1="528.45" x2="604.40" y1="282.50" y2="282.50" stroke="#222" stroke-width="0.6"/>
<text x="566.42" y="281.15" font-family="Liberation Sans, sans-serif" font-size="5.3" text-anchor="middle" fill="#555" stroke="#555" stroke-width="0" >**</text>
<rect x="482.90" y="222.50" width="166.90" height="171.50" fill="none" stroke="#333333" stroke-width="0.55"/>
<line x1="481.50" x2="482.90" y1="386.30" y2="386.30" stroke="#333" stroke-width="0.5"/>
<text x="480.30" y="388.20" font-family="Liberation Sans, sans-serif" font-size="5.3" text-anchor="end" fill="#444" stroke="#444" stroke-width="0" >0</text>
<line x1="481.50" x2="482.90" y1="348.35" y2="348.35" stroke="#333" stroke-width="0.5"/>
<text x="480.30" y="350.25" font-family="Liberation Sans, sans-serif" font-size="5.3" text-anchor="end" fill="#444" stroke="#444" stroke-width="0" >10</text>
<line x1="481.50" x2="482.90" y1="310.40" y2="310.40" stroke="#333" stroke-width="0.5"/>
<text x="480.30" y="312.30" font-family="Liberation Sans, sans-serif" font-size="5.3" text-anchor="end" fill="#444" stroke="#444" stroke-width="0" >20</text>
<line x1="481.50" x2="482.90" y1="272.45" y2="272.45" stroke="#333" stroke-width="0.5"/>
<text x="480.30" y="274.35" font-family="Liberation Sans, sans-serif" font-size="5.3" text-anchor="end" fill="#444" stroke="#444" stroke-width="0" >30</text>
<line x1="481.50" x2="482.90" y1="234.50" y2="234.50" stroke="#333" stroke-width="0.5"/>
<text x="480.30" y="236.40" font-family="Liberation Sans, sans-serif" font-size="5.3" text-anchor="end" fill="#444" stroke="#444" stroke-width="0" >40</text>
<line x1="528.45" x2="528.45" y1="394.00" y2="395.20" stroke="#333" stroke-width="0.5"/>
<text x="528.45" y="400.20" font-family="Liberation Sans, sans-serif" font-size="5.05" text-anchor="middle" fill="#222" stroke="#222" stroke-width="0.06" >GDYC-F</text>
<line x1="604.40" x2="604.40" y1="394.00" y2="395.20" stroke="#333" stroke-width="0.5"/>
<text x="604.40" y="400.20" font-family="Liberation Sans, sans-serif" font-size="5.05" text-anchor="middle" fill="#222" stroke="#222" stroke-width="0.06" >LW-F</text>
<text x="566.35" y="218.80" font-family="Liberation Sans, sans-serif" font-size="6.5" text-anchor="middle" fill="#111" stroke="#111" stroke-width="0.06" >Adipic acid</text>
<text transform="translate(471.90 308.25) rotate(-90)" font-family="Liberation Sans, sans-serif" font-size="5.75" text-anchor="middle" fill="#000" stroke="#000" stroke-width="0.06">log2(intensity)</text>
<text x="657.05" y="303.45" font-family="Liberation Sans, sans-serif" font-size="5.0" text-anchor="start" fill="#000" stroke="#000" stroke-width="0.1" >Group</text>
<rect x="656.95" y="305.85" width="5.95" height="5.95" fill="#A2C64C" stroke="#444" stroke-width="0.5"/>
<text x="665.25" y="310.93" font-family="Liberation Sans, sans-serif" font-size="5.0" text-anchor="start" fill="#000" stroke="#000" stroke-width="0.1" >GDYC-F</text>
<rect x="656.95" y="311.80" width="5.95" height="5.95" fill="#4FD2D6" stroke="#444" stroke-width="0.5"/>
<text x="665.25" y="316.88" font-family="Liberation Sans, sans-serif" font-size="5.0" text-anchor="start" fill="#000" stroke="#000" stroke-width="0.1" >LW-F</text>
<line x1="656.95" x2="662.90" y1="311.80" y2="311.80" stroke="#111" stroke-width="0.6"/>
<text x="462.60" y="219.90" font-family="Liberation Sans, sans-serif" font-size="5.0" text-anchor="start" fill="#222" stroke="#222" stroke-width="0.15" >F</text>
</g>
</svg>
</body></html>
